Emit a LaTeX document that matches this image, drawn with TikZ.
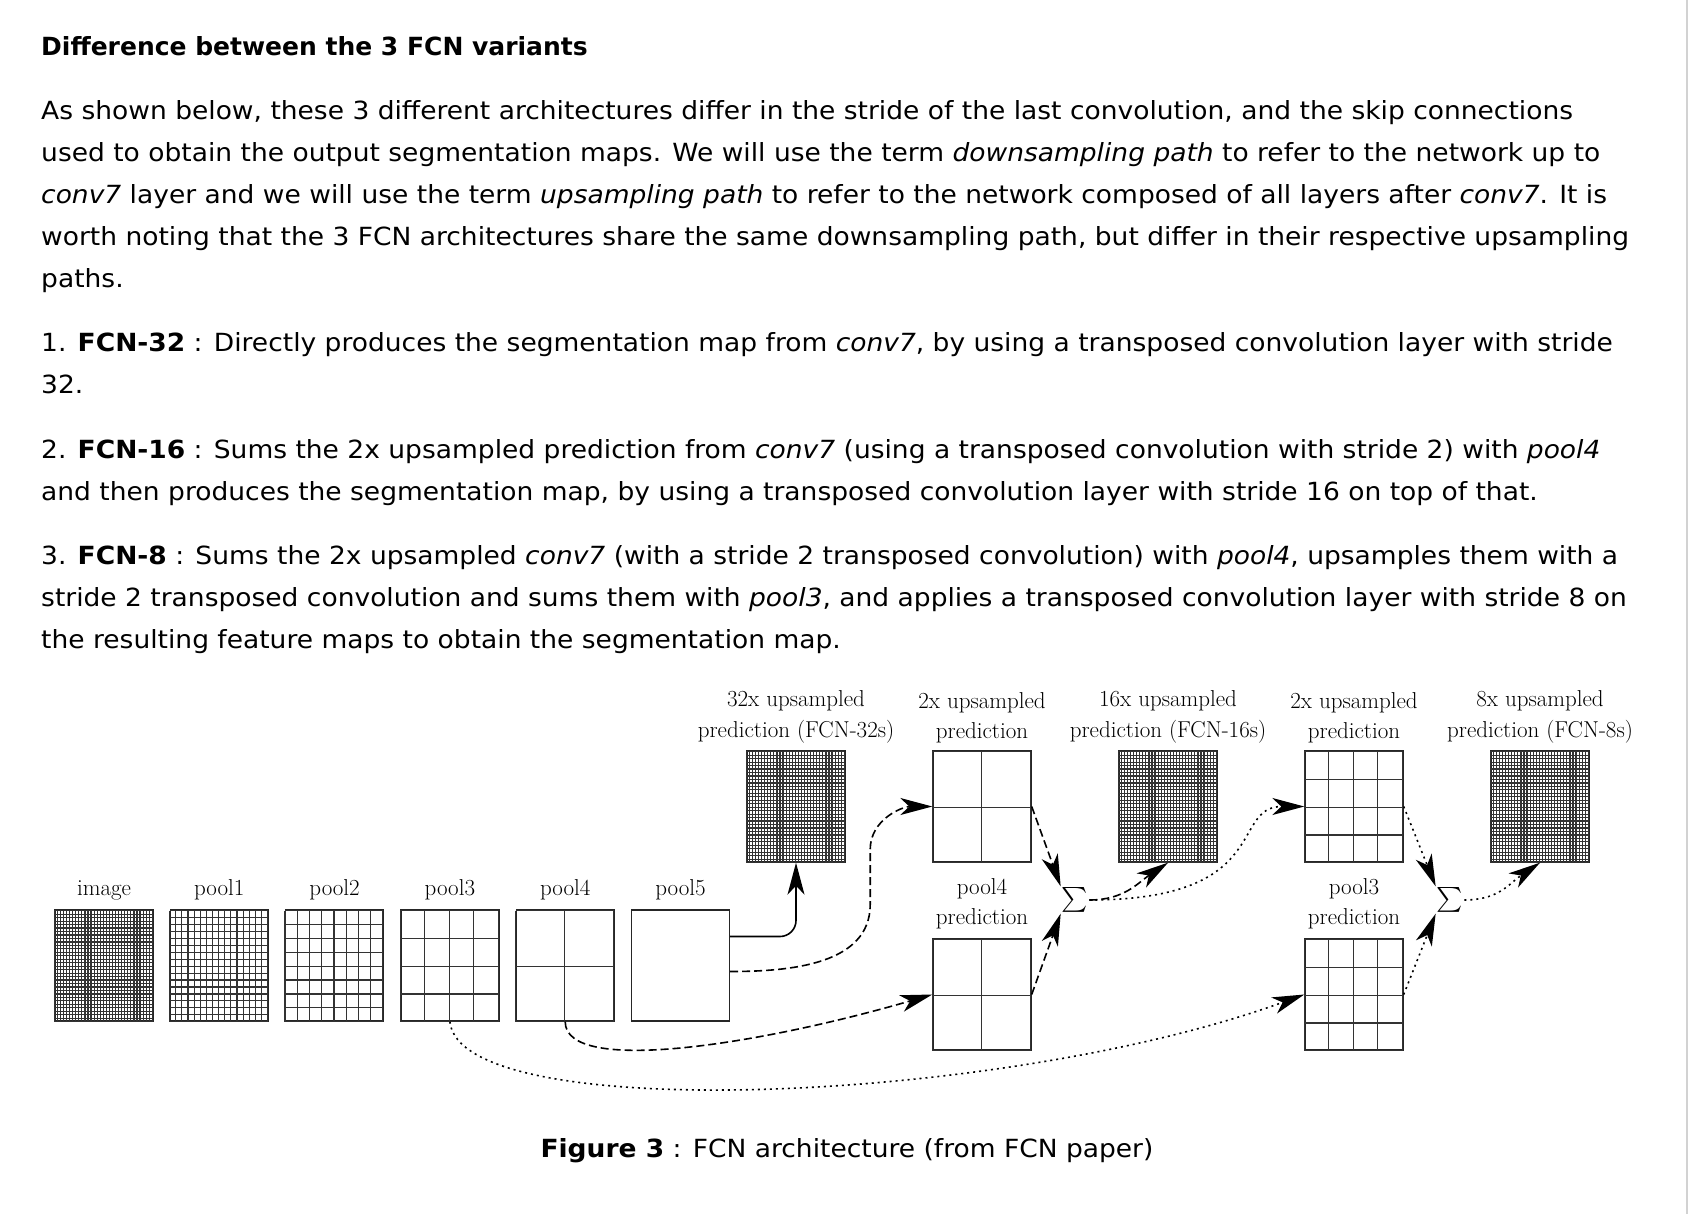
\documentclass[tikz,border=0pt]{standalone}
\usepackage{amsmath}
\usepackage{fontspec}
\newfontfamily\webfont{DejaVu Sans}[FakeStretch=1.06]
\newfontfamily\headfont{DejaVu Sans}
\usetikzlibrary{arrows.meta, positioning}
\tikzset{
  fmap/.style = {draw=black!85, line width=1.4pt, minimum width=98pt, minimum height=111pt, inner sep=0pt},
  gridline/.style = {draw=black!80, line width=1.2pt},
  lbl/.style = {font=\fontsize{23}{30.5}\selectfont, align=center, inner sep=0pt},
  sumnode/.style = {font=\fontsize{23}{28}\selectfont, inner sep=1pt},
  body/.style = {font=\webfont\fontsize{25}{42}\selectfont, align=left, anchor=base west, inner sep=0pt},
  larrow/.style = {-{Stealth[length=32pt, width=17pt, inset=9pt]}, line width=1.6pt},
  path16/.style = {larrow, dash pattern=on 8pt off 4pt},
  path8/.style = {larrow, dash pattern=on 2pt off 4pt},
}

\begin{document}
\begin{tikzpicture}[x=1pt, y=-1pt]
    \useasboundingbox (0,0) rectangle (1694,1214);
    \draw[gray!35, line width=2pt] (1687,0) -- (1687,1214);

    % text of the page (anchored at the baseline of the last line)
    \node[body, font=\headfont\fontsize{25}{42}\selectfont] (title) at (41,56) {\textbf{Difference between the 3 FCN variants}};
    \node[body] (intro) at (41,288) {%
        As shown below, these 3 different architectures differ in the stride of the last convolution, and the skip connections\\
        used to obtain the output segmentation maps. We will use the term \textit{downsampling path} to refer to the network up to\\
        \textit{conv7} layer and we will use the term \textit{upsampling path} to refer to the network composed of all layers after \textit{conv7}. It is\\
        worth noting that the 3 FCN architectures share the same downsampling path, but differ in their respective upsampling\\
        paths.};
    \node[body] (item1) at (41,393) {%
        1. \textbf{FCN-32} : Directly produces the segmentation map from \textit{conv7}, by using a transposed convolution layer with stride\\
        32.};
    \node[body] (item2) at (41,500) {%
        2. \textbf{FCN-16} : Sums the 2x upsampled prediction from \textit{conv7} (using a transposed convolution with stride 2) with \textit{pool4}\\
        and then produces the segmentation map, by using a transposed convolution layer with stride 16 on top of that.};
    \node[body] (item3) at (41,648) {%
        3. \textbf{FCN-8} : Sums the 2x upsampled \textit{conv7} (with a stride 2 transposed convolution) with \textit{pool4}, upsamples them with a\\
        stride 2 transposed convolution and sums them with \textit{pool3}, and applies a transposed convolution layer with stride 8 on\\
        the resulting feature maps to obtain the segmentation map.};
    \node[body, anchor=base] (caption) at (847,1157) {\textbf{Figure 3} : FCN architecture (from FCN paper)};

    % downsampling path
    \node[fmap] (image) at (104,965.5) {};
    \foreach \Map [remember=\Map as \lastMap (initially image)] in {pool1, pool2, pool3, pool4, pool5}
        \node[fmap] (\Map) [right=15.9pt of \lastMap] {};
    \foreach \Map in {image, pool1, pool2, pool3, pool4, pool5}
        \node[lbl] (lbl-\Map) [above=9pt of \Map] {\Map};

    % upsampling path
    \node[fmap] (up32)  at (796,806.5) {};
    \node[fmap] (up2a)  [right=86.6pt of up32] {};
    \node[fmap] (up16)  [right=86.6pt of up2a] {};
    \node[fmap] (up2b)  [right=86.6pt of up16] {};
    \node[fmap] (up8)   [right=86.6pt of up2b] {};
    \node[fmap] (pred4) [below=75.6pt of up2a] {};
    \node[fmap] (pred3) [below=75.6pt of up2b] {};

    \node[lbl] (lbl-up32)  [above=7pt of up32]  {32x upsampled\\prediction (FCN-32s)};
    \node[lbl] (lbl-up2a)  [above=7pt of up2a]  {2x upsampled\\prediction};
    \node[lbl] (lbl-up16)  [above=7pt of up16]  {16x upsampled\\prediction (FCN-16s)};
    \node[lbl] (lbl-up2b)  [above=7pt of up2b]  {2x upsampled\\prediction};
    \node[lbl] (lbl-up8)   [above=7pt of up8]   {8x upsampled\\prediction (FCN-8s)};
    \node[lbl] (lbl-pred4) [above=9pt of pred4] {pool4\\prediction};
    \node[lbl] (lbl-pred3) [above=9pt of pred3] {pool3\\prediction};

    % cells of every map
    \foreach \Map/\Cells in {image/32, pool1/16, pool2/8, pool3/4, pool4/2,
                             up32/32, up2a/2, up16/32, up2b/4, up8/32, pred4/2, pred3/4}
    {
        \pgfmathsetmacro\gx{98/\Cells}
        \pgfmathsetmacro\gy{111/\Cells}
        \begin{scope}[shift={(\Map.south west)}]
            \draw[gridline, xstep=\gx pt, ystep=\gy pt] (0pt,0pt) grid (98pt,111pt);
        \end{scope}
    }

    \node[sumnode] (sum1) at (1075,900) {$\sum$};
    \node[sumnode] (sum2) at (1450,900) {$\sum$};

    % FCN-32s
    \draw[larrow, rounded corners=16pt] ([yshift=29pt]pool5.east) -| (up32.south);

    % FCN-16s
    \draw[path16] ([yshift=-6pt]pool5.east) .. controls +(60,0) and +(0,60) .. ++(140,-67)
        -- ++(0,-55) .. controls +(0,-30) and +(-30,0) .. (up2a.west);
    \draw[path16] (pool4.south) .. controls +(0,54) and +(-172,50) .. (pred4.west);
    \draw[path16] (up2a.east) -- (sum1.north west);
    \draw[path16] (pred4.east) -- (sum1.south west);
    \draw[path16] (sum1.east) .. controls +(35,0) and +(-30,20) .. (up16.south);

    % FCN-8s
    \draw[path8] (pool3.south) .. controls +(10,104) and +(-303,110) .. (pred3.west);
    \draw[path8] (sum1.east) .. controls +(185,0) and +(-75,0) .. (up2b.west);
    \draw[path8] (up2b.east) -- (sum2.north west);
    \draw[path8] (pred3.east) -- (sum2.south west);
    \draw[path8] (sum2.east) .. controls +(35,0) and +(-30,20) .. (up8.south);
\end{tikzpicture}
\end{document}
